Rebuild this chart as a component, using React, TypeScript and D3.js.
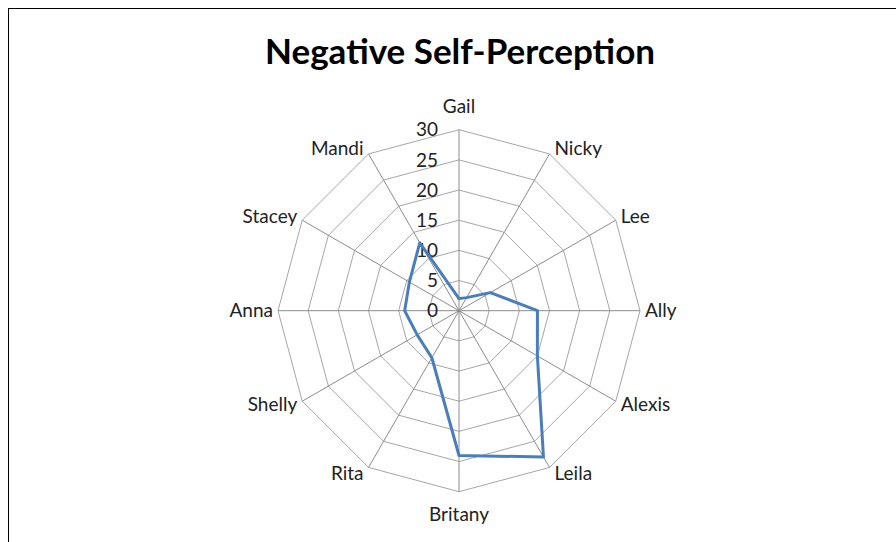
import React, { useRef, useEffect } from 'react';
import * as d3 from 'd3';

const names = ['Gail', 'Nicky', 'Lee', 'Ally', 'Alexis', 'Leila', 'Britany', 'Rita', 'Shelly', 'Anna', 'Stacey', 'Mandi'];
const scores = [2, 2.5, 6, 13, 15, 28, 24, 9, 8, 9, 9.5, 13];
const ticks = [0, 5, 10, 15, 20, 25, 30];

const W = 896, H = 542;

export default function App() {
  const ref = useRef<SVGSVGElement>(null);

  useEffect(() => {
    const svg = d3.select(ref.current);
    svg.selectAll('*').remove();

    const cx = 459, cy = 310.7;
    const R = 181;
    const font = 'Lato, "Open Sans", sans-serif';

    const r = d3.scaleLinear().domain([0, 30]).range([0, R]);
    const ang = d3.scaleLinear().domain([0, names.length]).range([0, 2 * Math.PI]);
    const px = (i, v) => cx + r(v) * Math.sin(ang(i));
    const py = (i, v) => cy - r(v) * Math.cos(ang(i));

    // frame
    svg.append('rect')
      .attr('x', 8.5).attr('y', 8.5)
      .attr('width', W + 10).attr('height', H + 10)
      .attr('fill', 'white').attr('stroke', '#000').attr('stroke-width', 1);

    svg.append('text')
      .attr('x', 460).attr('y', 64)
      .attr('text-anchor', 'middle')
      .style('font-family', font)
      .style('font-weight', 'bold')
      .style('font-size', '35px')
      .attr('fill', '#000')
      .text('Negative Self-Perception');

    const g = svg.append('g');

    // web rings
    const ring = d3.line().curve(d3.curveLinearClosed);
    ticks.filter(t => t > 0).forEach(t => {
      g.append('path')
        .attr('d', ring(names.map((_, i) => [px(i, t), py(i, t)])))
        .attr('fill', 'none')
        .attr('stroke', '#a6a6a6')
        .attr('stroke-width', 1);
    });

    // spokes
    g.selectAll('line.spoke')
      .data(names)
      .join('line')
      .attr('class', 'spoke')
      .attr('x1', cx).attr('y1', cy)
      .attr('x2', (d, i) => px(i, 30))
      .attr('y2', (d, i) => py(i, 30))
      .attr('stroke', '#8c8c8c')
      .attr('stroke-width', 1);

    // tick labels
    g.selectAll('text.tick')
      .data(ticks)
      .join('text')
      .attr('class', 'tick')
      .attr('x', cx - 21)
      .attr('y', d => cy - r(d))
      .attr('dy', '0.35em')
      .attr('text-anchor', 'end')
      .style('font-family', font)
      .style('font-size', '19px')
      .attr('fill', '#222')
      .text(d => d);

    // category labels
    g.selectAll('text.cat')
      .data(names)
      .join('text')
      .attr('class', 'cat')
      .attr('x', (d, i) => {
        const s = Math.sin(ang(i));
        return px(i, 30) + (Math.abs(s) < 0.01 ? 0 : Math.sign(s) * 5);
      })
      .attr('y', (d, i) => {
        const c = Math.cos(ang(i));
        const s = Math.sin(ang(i));
        return py(i, 30) + (Math.abs(s) < 0.01 ? -c * 23 : -c * 7);
      })
      .attr('dy', '0.35em')
      .attr('text-anchor', (d, i) => {
        const s = Math.sin(ang(i));
        return Math.abs(s) < 0.01 ? 'middle' : s > 0 ? 'start' : 'end';
      })
      .style('font-family', font)
      .style('font-size', '19px')
      .attr('fill', '#222')
      .text(d => d);

    // series
    g.append('path')
      .attr('d', ring(scores.map((v, i) => [px(i, v), py(i, v)])))
      .attr('fill', 'none')
      .attr('stroke', '#4a7ebb')
      .attr('stroke-width', 3)
      .attr('stroke-linejoin', 'round');
  }, []);

  return (
    <svg ref={ref} width={W} height={H}
      style={{ position: 'absolute', left: 0, top: 0, background: 'white' }} />
  );
}
